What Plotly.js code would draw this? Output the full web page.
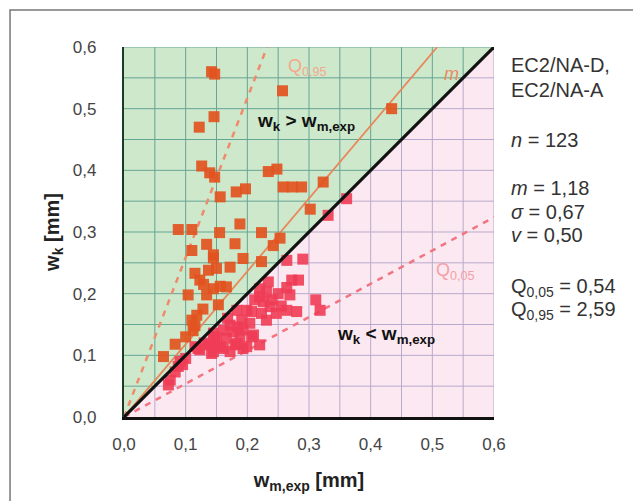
<!DOCTYPE html>
<html>
<head>
<meta charset="utf-8">
<script src="https://cdn.plot.ly/plotly-3.0.1.min.js"></script>
<style>html,body{margin:0;padding:0;background:#fff;}#chart{width:633px;height:501px;}</style>
</head>
<body>
<div id="chart"></div>
<script>
// Points above the diagonal (w_k > w_m,exp)
const aboveX = [0.142,0.147,0.257,0.146,0.122,0.434,0.126,0.139,0.147,0.234,0.248,0.156,0.182,0.197,0.258,0.273,0.288,0.323,0.302,0.088,0.110,0.155,0.188,0.223,0.253,0.242,0.110,0.134,0.180,0.145,0.193,0.115,0.137,0.150,0.172,0.223,0.123,0.145,0.156,0.166,0.104,0.134,0.153,0.118,0.110,0.115,0.112,0.083,0.064,0.145,0.129,0.128,0.100];
const aboveY = [0.560,0.556,0.529,0.487,0.470,0.500,0.407,0.396,0.389,0.398,0.402,0.357,0.365,0.370,0.373,0.373,0.373,0.381,0.337,0.304,0.304,0.299,0.313,0.299,0.290,0.278,0.270,0.280,0.281,0.258,0.257,0.233,0.238,0.241,0.243,0.252,0.222,0.208,0.212,0.211,0.198,0.198,0.182,0.165,0.157,0.148,0.140,0.118,0.098,0.263,0.215,0.175,0.130];
// Points below the diagonal (w_k < w_m,exp)
const belowX = [0.331,0.361,0.264,0.290,0.272,0.283,0.264,0.269,0.234,0.231,0.220,0.220,0.212,0.226,0.311,0.318,0.264,0.280,0.247,0.237,0.207,0.223,0.183,0.199,0.191,0.204,0.231,0.172,0.161,0.177,0.193,0.185,0.210,0.147,0.166,0.188,0.207,0.147,0.161,0.180,0.199,0.220,0.120,0.137,0.142,0.156,0.172,0.193,0.123,0.145,0.083,0.075,0.088,0.091,0.072,0.115,0.183,0.145,0.250,0.240,0.255,0.130,0.100,0.095,0.168,0.150];
const belowY = [0.327,0.354,0.254,0.256,0.222,0.222,0.210,0.198,0.219,0.203,0.208,0.195,0.190,0.187,0.190,0.173,0.173,0.171,0.168,0.179,0.171,0.168,0.173,0.173,0.157,0.152,0.157,0.149,0.141,0.138,0.141,0.146,0.133,0.130,0.128,0.130,0.130,0.117,0.111,0.117,0.114,0.117,0.111,0.117,0.103,0.114,0.106,0.111,0.109,0.136,0.073,0.060,0.082,0.090,0.052,0.114,0.119,0.106,0.200,0.190,0.180,0.120,0.095,0.085,0.160,0.125];
// Reference lines (end points)
const diagX = [0, 0.6], diagY = [0, 0.6];
const mX = [0, 0.508], mY = [0, 0.6];
const q95X = [0, 0.232], q95Y = [0, 0.6];
const q05X = [0, 0.6], q05Y = [0, 0.324];
const ticks = [0, 0.1, 0.2, 0.3, 0.4, 0.5, 0.6];
const gridVals = [0.05, 0.1, 0.15, 0.2, 0.25, 0.3, 0.35, 0.4, 0.45, 0.5, 0.55];
const statLines = ["EC2/NA-D,", "EC2/NA-A", "<i>n</i> = 123", "<i>m</i> = 1,18", "<i>σ</i> = 0,67", "<i>v</i> = 0,50", "Q<sub>0,05</sub> = 0,54", "Q<sub>0,95</sub> = 2,59"];
const statY = [65, 90, 140, 188, 212, 235, 287, 310];

const FONT = 'Liberation Sans, Arial, sans-serif';
const traces = [
  {x: q95X, y: q95Y, mode: 'lines', line: {color: '#f08a6c', width: 2.5, dash: '6px,6px'}, hoverinfo: 'skip'},
  {x: q05X, y: q05Y, mode: 'lines', line: {color: '#f27480', width: 2.5, dash: '6px,6px'}, hoverinfo: 'skip'},
  {x: mX, y: mY, mode: 'lines', line: {color: '#e9875a', width: 1.8}, hoverinfo: 'skip'},
  {x: aboveX, y: aboveY, mode: 'markers', marker: {symbol: 'square', size: 11, color: '#e2531f', opacity: 0.92, line: {width: 0}}},
  {x: belowX, y: belowY, mode: 'markers', marker: {symbol: 'square', size: 11, color: '#f03c55', opacity: 0.9, line: {width: 0}}},
  {x: diagX, y: diagY, mode: 'lines', line: {color: '#111', width: 3.2}, hoverinfo: 'skip'}
];

const ann = [
  {x: 0.295, y: 0.479, xref: 'x', yref: 'y', text: '<b>w<sub>k</sub> > w<sub>m,exp</sub></b>', showarrow: false, font: {family: FONT, size: 19, color: '#111'}},
  {x: 0.425, y: 0.133, xref: 'x', yref: 'y', text: '<b>w<sub>k</sub> < w<sub>m,exp</sub></b>', showarrow: false, font: {family: FONT, size: 19, color: '#111'}},
  {x: 0.298, y: 0.566, xref: 'x', yref: 'y', text: 'Q<sub>0,95</sub>', showarrow: false, font: {family: FONT, size: 18, color: '#f3a88c'}},
  {x: 0.531, y: 0.557, xref: 'x', yref: 'y', text: '<i>m</i>', showarrow: false, font: {family: FONT, size: 18, color: '#e98a60'}},
  {x: 0.537, y: 0.236, xref: 'x', yref: 'y', text: 'Q<sub>0,05</sub>', showarrow: false, font: {family: FONT, size: 18, color: '#f4a0a8'}}
];
statLines.forEach((t, i) => {
  ann.push({x: (509 - 124) / 370, y: (417 - statY[i]) / 370, xref: 'paper', yref: 'paper', xanchor: 'left', yanchor: 'middle',
    text: t, showarrow: false, font: {family: FONT, size: 20, color: '#333'}});
});

// background triangles and two-tone grid (green part / pink part)
const shapes = [
  {type: 'path', xref: 'x', yref: 'y', path: 'M 0 0 L 0 0.6 L 0.6 0.6 Z', fillcolor: '#cde8cb', line: {width: 0}, layer: 'below'}
];
const gGreen = '#66a593', gPink = '#b8aacd';
gridVals.forEach(v => {
  shapes.push({type: 'line', xref: 'x', yref: 'y', x0: v, x1: v, y0: v, y1: 0.6, line: {color: gGreen, width: 1}, layer: 'below'});
  shapes.push({type: 'line', xref: 'x', yref: 'y', x0: v, x1: v, y0: 0, y1: v, line: {color: gPink, width: 1}, layer: 'below'});
  shapes.push({type: 'line', xref: 'x', yref: 'y', x0: 0, x1: v, y0: v, y1: v, line: {color: gGreen, width: 1}, layer: 'below'});
  shapes.push({type: 'line', xref: 'x', yref: 'y', x0: v, x1: 0.6, y0: v, y1: v, line: {color: gPink, width: 1}, layer: 'below'});
});
shapes.push({type: 'line', xref: 'x', yref: 'y', x0: 0, x1: 0.6, y0: 0.6, y1: 0.6, line: {color: gGreen, width: 1}, layer: 'below'});
shapes.push({type: 'line', xref: 'x', yref: 'y', x0: 0.6, x1: 0.6, y0: 0, y1: 0.6, line: {color: gPink, width: 1}, layer: 'below'});
shapes.push({type: 'path', xref: 'paper', yref: 'paper', path: 'M 1.6 1.1 L -0.308 1.1 L -0.308 -0.4', fillcolor: 'rgba(0,0,0,0)', line: {color: '#777', width: 1.5}});

const axisBase = {
  range: [0, 0.6], tickvals: ticks, tickformat: '.1f', showgrid: false,
  zeroline: false, showline: true, ticks: '', fixedrange: true,
  tickfont: {family: FONT, size: 17, color: '#444'}
};

const layout = {
  width: 633, height: 501,
  margin: {l: 124, r: 139, t: 47, b: 84},
  paper_bgcolor: '#fff', plot_bgcolor: '#fce8f0',
  separators: ',.',
  showlegend: false,
  font: {family: FONT},
  xaxis: Object.assign({}, axisBase, {
    linecolor: '#111', linewidth: 2.5, ticklabelstandoff: 10,
    title: {text: '<b>w<sub>m,exp</sub> [mm]</b>', font: {family: FONT, size: 20, color: '#222'}, standoff: 20}
  }),
  yaxis: Object.assign({}, axisBase, {
    linecolor: '#1c3a28', linewidth: 2.2, ticklabelstandoff: 22,
    title: {text: '<b>w<sub>k</sub> [mm]</b>', font: {family: FONT, size: 20, color: '#222'}, standoff: 8}
  }),
  shapes: shapes,
  annotations: ann
};

Plotly.newPlot('chart', traces, layout, {staticPlot: true, displayModeBar: false});
</script>
</body>
</html>
